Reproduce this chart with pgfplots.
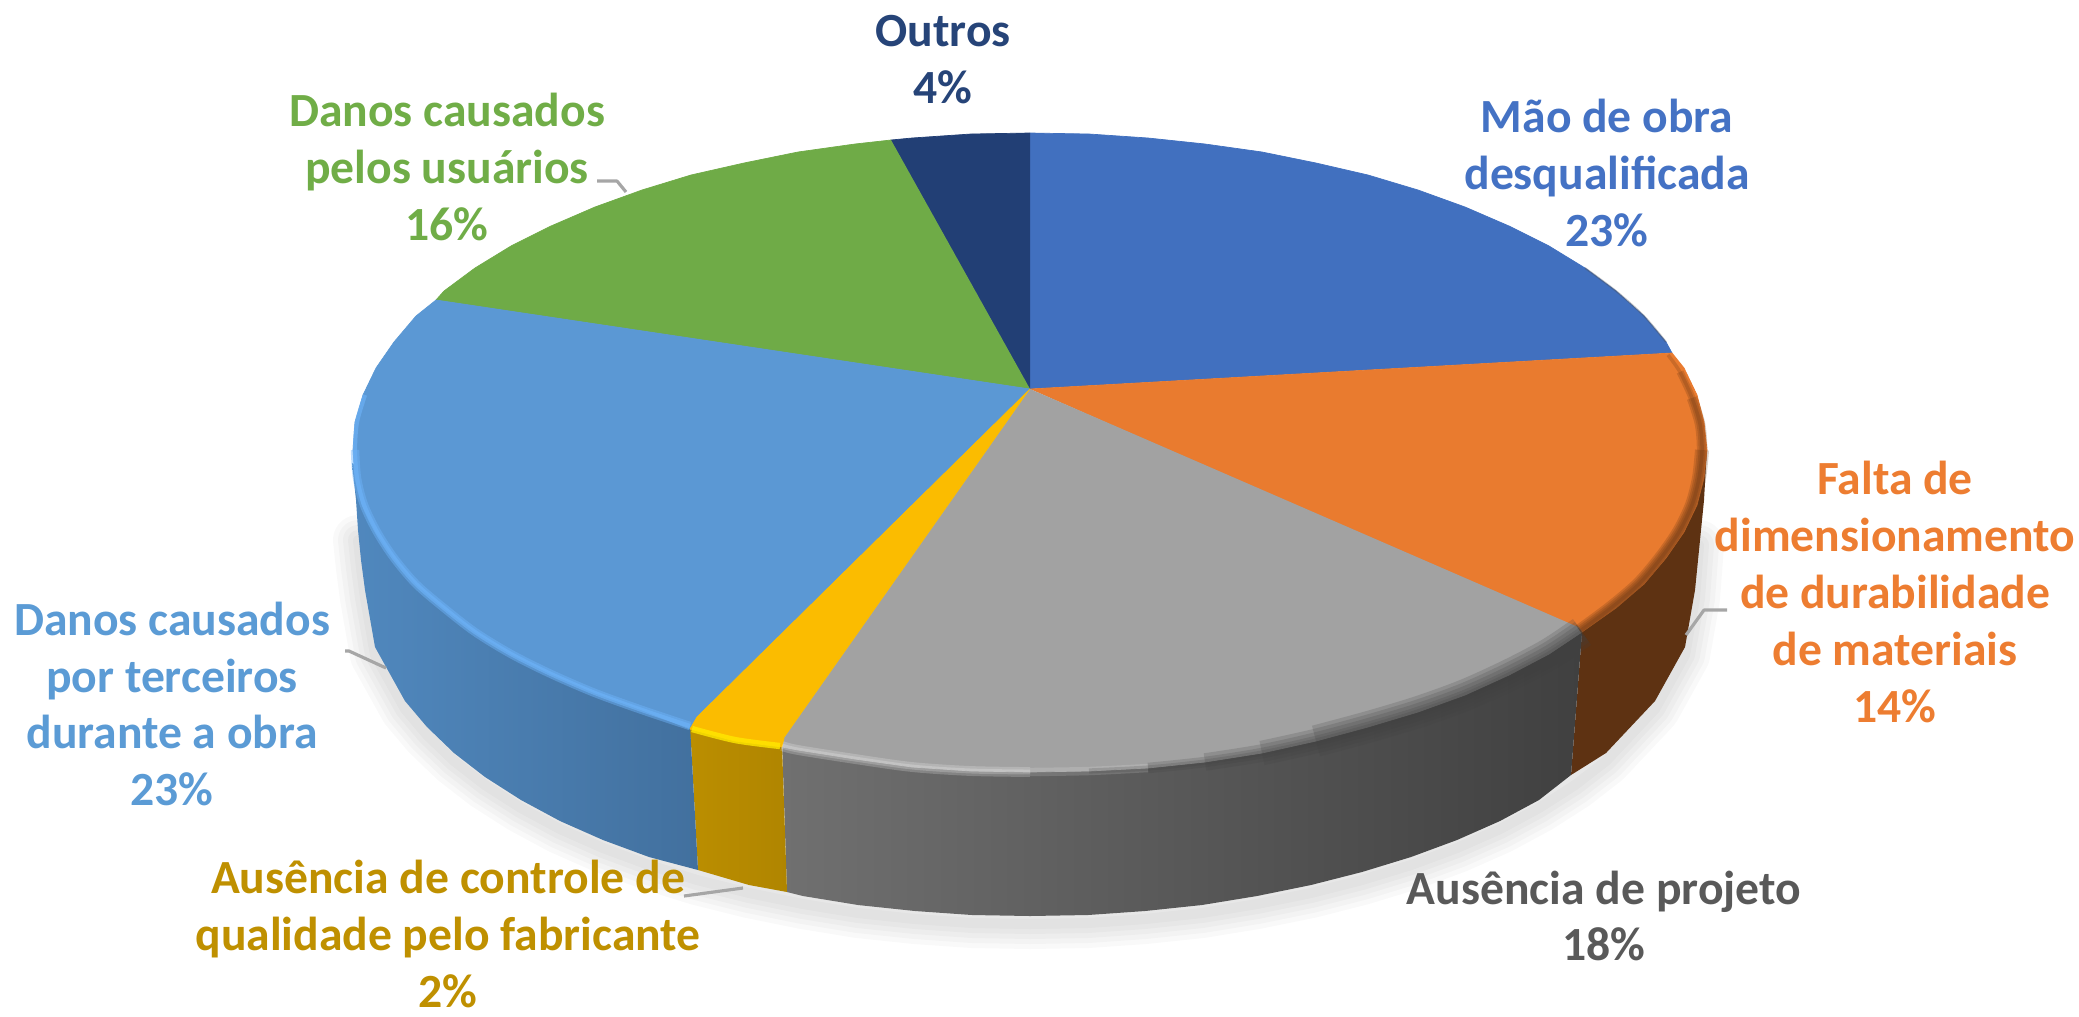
\documentclass[border=0pt]{standalone}
\usepackage{fontspec}
\setmainfont{Carlito}
\usepackage{pgfplots}
\usepackage{pgfplotstable}
\pgfplotsset{compat=1.18}
\definecolor{cMao}{HTML}{4170BF}
\definecolor{cFalta}{HTML}{E97B2F}
\definecolor{cProj}{HTML}{A2A2A2}
\definecolor{cCtrl}{HTML}{FBBC00}
\definecolor{cTerc}{HTML}{5B98D4}
\definecolor{cUsu}{HTML}{6FAB47}
\definecolor{cOut}{HTML}{223F75}
\definecolor{tMao}{HTML}{4472C4}
\definecolor{tFalta}{HTML}{ED7D31}
\definecolor{tProj}{HTML}{595959}
\definecolor{tCtrl}{HTML}{BF9000}
\definecolor{tTerc}{HTML}{5B9BD5}
\definecolor{tUsu}{HTML}{70AD47}
\definecolor{tOut}{HTML}{264478}
\definecolor{lead}{HTML}{A6A6A6}
\definecolor{sOr}{HTML}{5E3212}
\definecolor{sGa}{HTML}{707070}
\definecolor{sGb}{HTML}{474747}
\definecolor{sGc}{HTML}{404040}
\definecolor{sYa}{HTML}{BB8E00}
\definecolor{sYb}{HTML}{B08500}
\definecolor{sBa}{HTML}{5088BE}
\definecolor{sBb}{HTML}{42709E}
\definecolor{hBl}{HTML}{6EB4FA}
\definecolor{hYe}{HTML}{FFE800}
\pgfplotstableread{
x y
358 540
361 568
365 598
375 655
405 709
427 735
454 761
485 785
521 808
560 829
603 848
649 865
697 880
749 893
803 904
858 913
915 919
972 923
1030 924
1088 923
1145 919
1202 913
1257 904
1311 893
1362 880
1411 865
1457 848
1500 829
1539 808
1575 785
1606 761
1655 709
1685 655
1695 598
1699 545
}\shadowtab
\pgfplotstableread{
x y
365 395
357 422
355 450
357 478
364 505
377 532
394 558
416 584
444 608
475 632
511 654
551 674
595 693
642 710
690 726
}\rimblue
\pgfplotstableread{
x y
355 450
357 478
364 505
377 532
394 558
416 584
444 608
475 632
511 654
551 674
595 693
642 710
690 726
}\rimblueB
\pgfplotstableread{
x y
782 746
798 750
855 759
912 767
971 771
1030 772
}\rimgrayA
\pgfplotstableread{
x y
1030 772
1089 771
1148 768
}\rimgrayB
\pgfplotstableread{
x y
1089 771
1148 768
1205 762
1262 753
1316 741
1368 727
1418 712
1465 695
1509 675
1549 654
1582 632
}\rimgrayC
\pgfplotstableread{
x y
1148 768
1205 762
1262 753
1316 741
1368 727
1418 712
1465 695
1509 675
1549 654
1582 632
}\rimgrayD
\pgfplotstableread{
x y
1205 762
1262 753
1316 741
1368 727
1418 712
1465 695
1509 675
1549 654
1582 632
}\rimgrayE
\pgfplotstableread{
x y
1262 753
1316 741
1368 727
1418 712
1465 695
1509 675
1549 654
1582 632
}\rimgrayF
\pgfplotstableread{
x y
1316 741
1368 727
1418 712
1465 695
1509 675
1549 654
1582 632
}\rimgrayG
\pgfplotstableread{
x y
1668 355
1680 372
1692 398
1700 424
1702 450
1699 478
1692 505
1679 532
1661 558
1639 584
1611 608
1580 631
}\rimorA
\pgfplotstableread{
x y
1680 372
1692 398
1700 424
1702 450
1699 478
1692 505
1679 532
1661 558
1639 584
1611 608
1580 631
}\rimorB
\pgfplotstableread{
x y
1692 398
1700 424
1702 450
1699 478
1692 505
1679 532
1661 558
1639 584
1611 608
1580 631
}\rimorC
\pgfplotstableread{
x y
1702 450
1699 478
1692 505
1679 532
1661 558
1639 584
1611 608
1580 631
}\rimorD
\begin{document}
\begin{tikzpicture}
\begin{axis}[
  scale only axis, width=20.79cm, height=10.16cm,
  xmin=0, xmax=2079, ymin=0, ymax=1016, y dir=reverse,
  hide axis, clip=false,
  every axis plot/.append style={line join=round, no markers},
]
% corners that hold the page
\addplot[draw=none] coordinates {(0,0) (2079,1016)};
% soft shadow
\pgfplotsinvokeforeach{5.0,4.0,3.0,2.0,1.0}{
  \addplot[draw=black, opacity=0.025, line cap=round, line width=#1 mm] table {\shadowtab};
}
% sides
\addplot[draw=none, fill=sOr]
  coordinates {(1707,447)(1704,500)(1700,540)(1695,590)(1685,647)(1655,701)(1606,753)(1571,775)(1582,632)(1640,560)};
\addplot[draw=none, shade, left color=sGa, middle color=sGb, right color=sGc]
  coordinates {(1582,632)(1571,775)(1539,800)(1500,821)(1457,840)(1411,857)(1362,872)(1311,885)(1257,896)(1202,905)(1145,911)(1088,915)(1030,916)(972,915)(915,911)(858,905)(803,896)(787,892)(782,740)};
\addplot[draw=none, shade, left color=sYa, right color=sYb]
  coordinates {(690,725)(698,870)(749,885)(787,892)(782,745)};
\addplot[draw=none, shade, left color=sBa, right color=sBb]
  coordinates {(352,463)(356,500)(358,530)(361,560)(365,590)(375,647)(405,701)(427,727)(454,753)(485,777)(521,800)(560,821)(603,840)(649,857)(698,870)(690,725)};
% top face
\addplot[draw=cMao, line width=0.2pt, fill=cMao]
  coordinates {(1030,389)(1030,133)(1089,134)(1148,138)(1205,144)(1262,152)(1316,163)(1368,175)(1418,190)(1465,207)(1509,226)(1549,246)(1585,268)(1616,291)(1644,316)(1666,342)(1672,353)};
\addplot[draw=cOut, line width=0.2pt, fill=cOut]
  coordinates {(1030,389)(891,140)(912,138)(971,134)(1030,133)};
\addplot[draw=cUsu, line width=0.2pt, fill=cUsu]
  coordinates {(1030,389)(436,300)(444,291)(475,268)(511,246)(551,226)(595,207)(642,190)(691,175)(744,163)(798,152)(855,144)(891,140)};
\addplot[draw=cFalta, line width=0.2pt, fill=cFalta]
  coordinates {(1030,389)(1672,353)(1684,368)(1697,395)(1704,422)(1707,450)(1704,478)(1697,505)(1684,532)(1666,558)(1644,584)(1616,608)(1582,632)};
\addplot[draw=cTerc, line width=0.2pt, fill=cTerc]
  coordinates {(1030,389)(436,300)(416,316)(394,342)(376,368)(363,395)(355,422)(353,450)(355,478)(362,505)(376,532)(394,558)(416,584)(444,608)(475,632)(511,654)(551,674)(595,693)(642,710)(690,729)(697,717)};
\addplot[draw=cProj, line width=0.2pt, fill=cProj]
  coordinates {(1030,389)(784,738)(782,747)(798,750)(855,759)(912,767)(971,771)(1030,772)(1089,771)(1148,768)(1205,762)(1262,753)(1316,741)(1368,727)(1418,712)(1465,695)(1509,675)(1549,654)(1582,632)(1578,627)};
\addplot[draw=cCtrl, line width=0.2pt, fill=cCtrl]
  coordinates {(1030,389)(697,717)(690,729)(735,741)(782,747)(784,738)};
% bevel along the rim
\addplot[smooth, draw=hBl, opacity=0.45, line width=2.4pt] table {\rimblueB};
\addplot[smooth, draw=hBl, opacity=0.6, line width=1.2pt] table {\rimblue};
\addplot[smooth, draw=hYe, opacity=0.8, line width=1.8pt] coordinates {(692,729)(735,740)(780,746)};
\addplot[smooth, draw=white, opacity=0.2, line width=2.8pt] table {\rimgrayA};
\addplot[smooth, draw=white, opacity=0.2, line width=1.4pt] table {\rimgrayA};
\addplot[smooth, draw=white, opacity=0.14, line width=2.4pt] table {\rimgrayB};
\addplot[smooth, draw=sGc, opacity=0.2, line width=1.5pt] table {\rimgrayC};
\addplot[smooth, draw=sGc, opacity=0.2, line width=3pt] table {\rimgrayD};
\addplot[smooth, draw=sGc, opacity=0.2, line width=5pt] table {\rimgrayE};
\addplot[smooth, draw=sGc, opacity=0.2, line width=7pt] table {\rimgrayF};
\addplot[smooth, draw=sGc, opacity=0.2, line width=9pt] table {\rimgrayG};
\addplot[smooth, draw=sOr, opacity=0.22, line width=1pt] table {\rimorA};
\addplot[smooth, draw=sOr, opacity=0.22, line width=2pt] table {\rimorB};
\addplot[smooth, draw=sOr, opacity=0.22, line width=3pt] table {\rimorC};
\addplot[smooth, draw=sOr, opacity=0.22, line width=4pt] table {\rimorD};
\addplot[smooth, draw=black!70, opacity=0.35, line width=0.5pt] coordinates {(1585,268)(1616,291)(1644,316)(1666,342)};
% leader lines
\addplot[draw=lead, line width=0.9pt] coordinates {(597,181)(617,181)(626,192)};
\addplot[draw=lead, line width=0.9pt] coordinates {(1727,610)(1704,610)(1686,635)};
\addplot[draw=lead, line width=0.9pt] coordinates {(345,651)(349,651)(386,668)};
\addplot[draw=lead, line width=0.9pt] coordinates {(684,896)(743,888)};
% labels
\tikzset{lab/.style={align=center, inner sep=0pt, font=\fontsize{13.55}{16.2}\selectfont\bfseries}}
\node[lab, text=tOut] at (axis cs:943,60) {Outros\\4\%};
\node[lab, text=tMao] at (axis cs:1607,173) {Mão de obra\\desqualificada\\23\%};
\node[lab, text=tFalta] at (axis cs:1895,592) {Falta de\\dimensionamento\\de durabilidade\\de materiais\\14\%};
\node[lab, text=tProj] at (axis cs:1604,916) {Ausência de projeto\\18\%};
\node[lab, text=tCtrl] at (axis cs:448,934) {Ausência de controle de\\qualidade pelo fabricante\\2\%};
\node[lab, text=tTerc] at (axis cs:172,704) {Danos causados\\por terceiros\\durante a obra\\23\%};
\node[lab, text=tUsu] at (axis cs:447,167) {Danos causados\\pelos usuários\\16\%};
\end{axis}
\end{tikzpicture}
\end{document}
